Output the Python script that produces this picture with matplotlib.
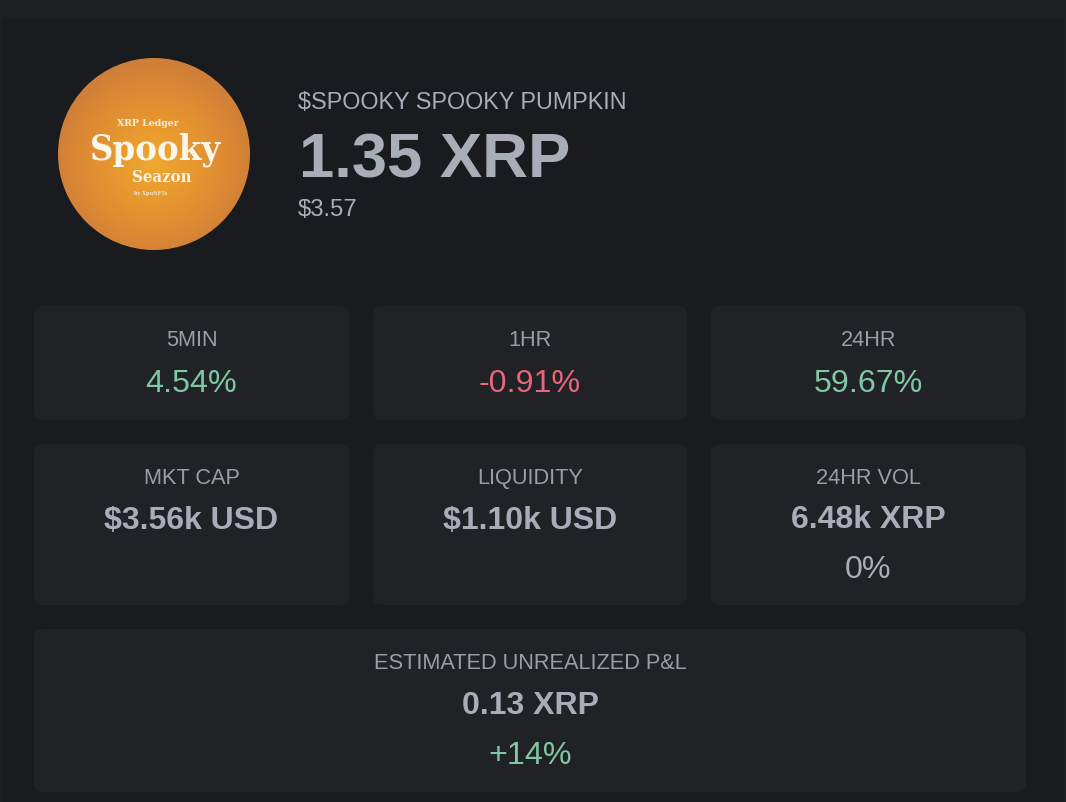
import numpy as np
import matplotlib
matplotlib.use("Agg")
import matplotlib.pyplot as plt
from matplotlib.patches import FancyBboxPatch, Circle, Rectangle
from matplotlib.colors import LinearSegmentedColormap

plt.rcParams['font.family'] = ['Liberation Sans', 'DejaVu Sans']

BG = '#191b1f'
CARD = '#202226'
GREY = '#a9adb8'
LABEL = '#9a9da5'
GREEN = '#7fc7a5'
RED = '#e8657c'

token_title = "$SPOOKY SPOOKY PUMPKIN"
token_price = "1.35 XRP"
token_usd = "$3.57"

change_labels = ["5MIN", "1HR", "24HR"]
change_values = ["4.54%", "-0.91%", "59.67%"]
change_colors = [GREEN, RED, GREEN]

stat_labels = ["MKT CAP", "LIQUIDITY", "24HR VOL"]
stat_values = ["$3.56k USD", "$1.10k USD", "6.48k XRP"]
vol_change = "0%"

pnl_label = "ESTIMATED UNREALIZED P&L"
pnl_value = "0.13 XRP"
pnl_change = "+14%"

W, H = 1066, 802
fig = plt.figure(figsize=(W / 100, H / 100), dpi=100, facecolor=BG)
ax = fig.add_axes([0, 0, 1, 1])
ax.set_xlim(0, W)
ax.set_ylim(H, 0)
ax.axis('off')

ax.add_patch(Rectangle((0, 0), W, 17, fc='#1d1f23', ec='none'))
ax.add_patch(Rectangle((0, 0), 2, H, fc='#1d1f23', ec='none'))
ax.add_patch(Rectangle((W - 2, 0), 2, H, fc='#1d1f23', ec='none'))


def card(x0, y0, x1, y1):
    r = 9
    ax.add_patch(FancyBboxPatch((x0 + r, y0 + r), x1 - x0 - 2 * r, y1 - y0 - 2 * r,
                                boxstyle=f"round,pad={r},rounding_size={r}",
                                fc=CARD, ec='none'))


def label(x, y, s, size, color, weight='normal'):
    ax.text(x, y, s, fontsize=size, color=color, fontweight=weight,
            ha='center', va='center_baseline')


# coin image
cx, cy, R = 154, 154, 96
n = 400
gx, gy = np.meshgrid(np.linspace(cx - R, cx + R, n), np.linspace(cy - R, cy + R, n))
dist = np.hypot(gx - cx, gy - (cy + 8)) / R
cmap = LinearSegmentedColormap.from_list('pumpkin', ['#f0a92e', '#e99a2f', '#df8c33', '#cf7f38'])
im = ax.imshow(dist, extent=(cx - R, cx + R, cy + R, cy - R), cmap=cmap, vmin=0, vmax=1.05,
               interpolation='bilinear', aspect='auto', zorder=2)
clip = Circle((cx, cy), R, transform=ax.transData)
im.set_clip_path(clip)
ax.set_xlim(0, W)
ax.set_ylim(H, 0)

logo_font = 'DejaVu Serif'
ax.text(148, 123, "XRP Ledger", fontsize=7.5, color='#f6efe0', fontweight='bold',
        family=logo_font, stretch='condensed', ha='center', va='center', zorder=3)
ax.text(156, 150, "Spooky", fontsize=26, color='#fbf6ea', fontweight='bold',
        family=logo_font, stretch='condensed', ha='center', va='center', zorder=3)
ax.text(162, 177, "Seazon", fontsize=12, color='#f8f2e4', fontweight='bold',
        family=logo_font, stretch='condensed', ha='center', va='center', zorder=3)
ax.text(151, 194, "by XpuNFTs", fontsize=4, color='#f0e6d0', fontweight='bold',
        family=logo_font, stretch='condensed', ha='center', va='center', zorder=3)

# header
ax.text(298, 100, token_title, fontsize=16.8, color=GREY, ha='left', va='center_baseline')
ax.text(299, 154, token_price, fontsize=45.6, color=GREY, fontweight='bold', ha='left', va='center_baseline')
ax.text(298, 207, token_usd, fontsize=17.2, color=GREY, ha='left', va='center_baseline')

col_x0 = [34, 373, 711]
col_x1 = [349, 687, 1026]

for x0, x1, lab, val, col in zip(col_x0, col_x1, change_labels, change_values, change_colors):
    card(x0, 306, x1, 420)
    xc = (x0 + x1) / 2
    label(xc, 338, lab, 15.7, LABEL)
    label(xc, 380, val, 23.2, col)

for x0, x1, lab, val in zip(col_x0, col_x1, stat_labels, stat_values):
    card(x0, 444, x1, 605)
    xc = (x0 + x1) / 2
    label(xc, 476, lab, 15.7, LABEL)
    label(xc, 517, val, 23, GREY, 'bold')
label((col_x0[2] + col_x1[2]) / 2, 566, vol_change, 23.2, GREY)

card(34, 629, 1026, 792)
label(530, 661, pnl_label, 15.7, LABEL)
label(530, 703, pnl_value, 23, GREY, 'bold')
label(530, 752, pnl_change, 23.2, GREEN)

fig.savefig('out.png', dpi=100, facecolor=BG)
